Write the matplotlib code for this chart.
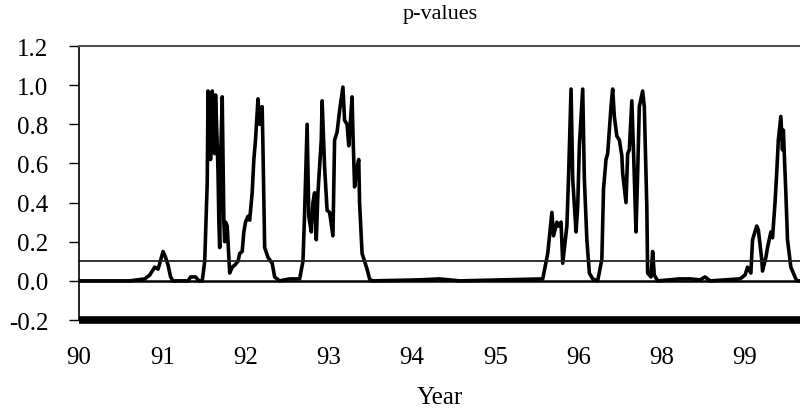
import numpy as np
import matplotlib
matplotlib.use("Agg")
import matplotlib.pyplot as plt

plt.rcParams['font.family'] = ['Liberation Serif', 'DejaVu Serif']

# time position (one unit per labelled year) and p-value
t = [0.00, 0.61, 0.79, 0.85, 0.91, 0.95, 0.97, 1.01, 1.04, 1.07, 1.10, 1.13,
     1.31, 1.34, 1.40, 1.44, 1.48, 1.51, 1.54, 1.55, 1.56, 1.57, 1.58, 1.60,
     1.61, 1.62, 1.63, 1.64, 1.66, 1.67, 1.68, 1.69, 1.70, 1.72, 1.73, 1.74,
     1.75, 1.76, 1.78, 1.79, 1.81, 1.84, 1.87, 1.91, 1.93, 1.96, 1.98, 2.00,
     2.03, 2.05, 2.08, 2.10, 2.12, 2.15, 2.17, 2.20, 2.21, 2.23, 2.27, 2.32,
     2.35, 2.41, 2.53, 2.65, 2.69, 2.71, 2.74, 2.76, 2.79, 2.81, 2.83, 2.85,
     2.87, 2.91, 2.92, 2.95, 2.98, 3.01, 3.05, 3.07, 3.10, 3.13, 3.17, 3.19,
     3.22, 3.24, 3.28, 3.29, 3.31, 3.34, 3.36, 3.37, 3.40, 3.43, 3.46, 3.49,
     3.52, 4.09, 4.33, 4.57, 5.57, 5.63, 5.68, 5.70, 5.74, 5.76, 5.79, 5.81,
     5.86, 5.88, 5.91, 5.93, 5.97, 5.99, 6.01, 6.05, 6.07, 6.10, 6.13, 6.17,
     6.23, 6.28, 6.30, 6.33, 6.35, 6.39, 6.41, 6.43, 6.46, 6.49, 6.52, 6.53,
     6.57, 6.59, 6.61, 6.64, 6.66, 6.69, 6.71, 6.73, 6.77, 6.79, 6.82, 6.83,
     6.87, 6.89, 6.91, 6.95, 7.09, 7.21, 7.34, 7.46, 7.52, 7.58, 7.94, 8.00,
     8.03, 8.07, 8.09, 8.14, 8.16, 8.20, 8.21, 8.25, 8.27, 8.31, 8.33, 8.36,
     8.38, 8.40, 8.43, 8.45, 8.46, 8.49, 8.51, 8.55, 8.57, 8.61, 8.63, 8.66]
p = [0.00, 0.00, 0.01, 0.03, 0.07, 0.06, 0.09, 0.15, 0.12, 0.08, 0.02, 0.00,
     0.00, 0.02, 0.02, 0.00, 0.00, 0.10, 0.50, 0.97, 0.70, 0.95, 0.62, 0.97,
     0.75, 0.93, 0.65, 0.95, 0.70, 0.55, 0.30, 0.17, 0.60, 0.94, 0.60, 0.30,
     0.20, 0.30, 0.28, 0.20, 0.04, 0.07, 0.08, 0.10, 0.14, 0.15, 0.25, 0.30,
     0.33, 0.31, 0.45, 0.62, 0.72, 0.93, 0.80, 0.89, 0.67, 0.17, 0.12, 0.09,
     0.02, 0.00, 0.01, 0.01, 0.10, 0.35, 0.80, 0.33, 0.25, 0.40, 0.45, 0.21,
     0.45, 0.72, 0.92, 0.58, 0.36, 0.35, 0.23, 0.72, 0.76, 0.87, 0.99, 0.82,
     0.80, 0.69, 0.94, 0.76, 0.48, 0.58, 0.62, 0.40, 0.14, 0.10, 0.06, 0.01,
     0.00, 0.005, 0.01, 0.00, 0.01, 0.14, 0.35, 0.23, 0.30, 0.28, 0.30, 0.09,
     0.28, 0.53, 0.98, 0.52, 0.25, 0.38, 0.69, 0.98, 0.52, 0.21, 0.04, 0.01,
     0.00, 0.11, 0.47, 0.62, 0.65, 0.89, 0.98, 0.84, 0.74, 0.72, 0.64, 0.55,
     0.40, 0.65, 0.67, 0.92, 0.67, 0.25, 0.55, 0.89, 0.97, 0.89, 0.38, 0.04,
     0.02, 0.15, 0.03, 0.00, 0.005, 0.01, 0.01, 0.005, 0.02, 0.00, 0.01, 0.03,
     0.07, 0.04, 0.21, 0.28, 0.26, 0.11, 0.05, 0.12, 0.17, 0.25, 0.22, 0.40,
     0.55, 0.72, 0.84, 0.67, 0.77, 0.45, 0.21, 0.07, 0.05, 0.01, 0.00, 0.00]

year_labels = ['90', '91', '92', '93', '94', '95', '96', '98', '99']
y_ticks = [-0.2, 0.0, 0.2, 0.4, 0.6, 0.8, 1.0, 1.2]
ref_levels = [0.0, 0.1]

fig = plt.figure(figsize=(8, 4.14), dpi=100)
ax = fig.add_axes([79/800, 1 - 321/414, 721/800, 274/414])

ax.plot(t, p, color='black', lw=2.6, solid_joinstyle='round')
ax.axhline(ref_levels[0], color='black', lw=1.8)
ax.axhline(ref_levels[1], color='#222222', lw=1.3)

ax.set_xlim(0, t[-1])
ax.set_ylim(y_ticks[0], y_ticks[-1])
ax.set_xticks(range(len(year_labels)))
ax.set_xticklabels(year_labels)
ax.set_yticks(y_ticks)
ax.set_yticklabels(['%.1f' % v for v in y_ticks])
ax.tick_params(axis='x', length=0, pad=19, labelsize=18)
ax.tick_params(axis='y', length=7, width=1, pad=15, labelsize=18, direction='out')

ax.spines['right'].set_visible(False)
ax.spines['top'].set_color('#555555')
ax.spines['top'].set_linewidth(1.5)
ax.spines['left'].set_linewidth(1.2)
ax.spines['bottom'].set_linewidth(5.5)
ax.spines['bottom'].set_capstyle('butt')

fig.text(0.55, 1 - 15/414, 'p-values', ha='center', va='center', fontsize=16)
fig.text(0.55, 1 - 398/414, 'Year', ha='center', va='center', fontsize=18)

fig.savefig('out.png', dpi=100)
